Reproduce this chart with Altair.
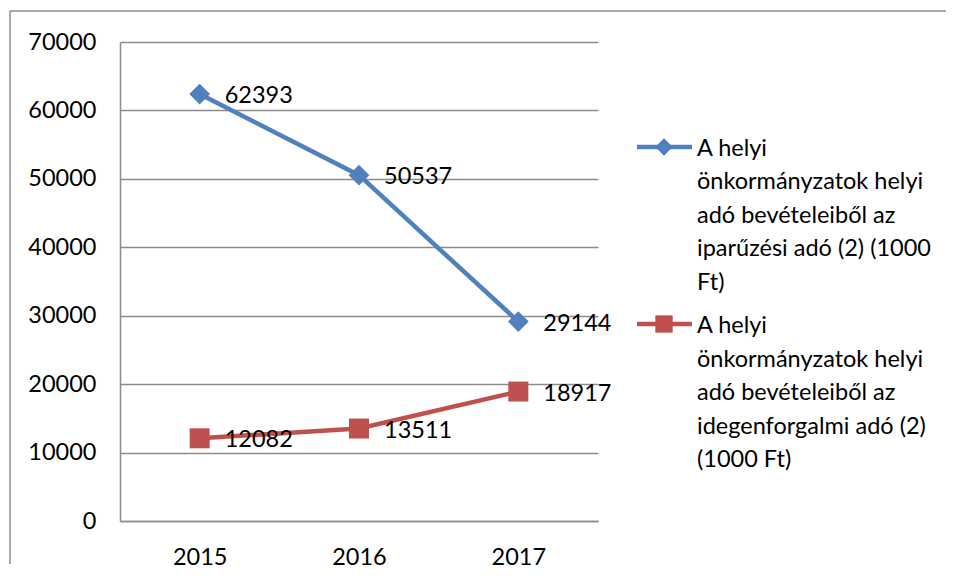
import altair as alt
import pandas as pd

FONT = "Lato"
FS = 23.5

years = ["2015", "2016", "2017"]
series_names = [
    "A helyi önkormányzatok helyi adó bevételeiből az iparűzési adó (2) (1000 Ft)",
    "A helyi önkormányzatok helyi adó bevételeiből az idegenforgalmi adó (2) (1000 Ft)",
]
legend_lines = [
    ["A helyi", "önkormányzatok helyi", "adó bevételeiből az", "iparűzési adó (2) (1000", "Ft)"],
    ["A helyi", "önkormányzatok helyi", "adó bevételeiből az", "idegenforgalmi adó (2)", "(1000 Ft)"],
]
iparuzesi = [62393, 50537, 29144]
idegenforgalmi = [12082, 13511, 18917]
y_ticks = [0, 10000, 20000, 30000, 40000, 50000, 60000, 70000]

colors = ["#4F81BD", "#C0504D"]
shapes = ["diamond", "square"]
sizes = [430, 400]
GRID = "#8c8c8c"

rows = []
for name, vals in zip(series_names, [iparuzesi, idegenforgalmi]):
    for yr, v in zip(years, vals):
        rows.append({"year": yr, "value": v, "series": name})
df = pd.DataFrame(rows)

color_scale = alt.Scale(domain=series_names, range=colors)
shape_scale = alt.Scale(domain=series_names, range=shapes)
size_scale = alt.Scale(domain=series_names, range=sizes)

base = alt.Chart(df).encode(
    x=alt.X("year:O", sort=years, scale=alt.Scale(type="point", padding=0.5),
            axis=alt.Axis(title=None, labelAngle=0, ticks=False, labelPadding=24,
                          domainColor=GRID, domainWidth=1.5)),
    y=alt.Y("value:Q", scale=alt.Scale(domain=[0, 70000]),
            axis=alt.Axis(title=None, values=y_ticks, format="d", ticks=False,
                          labelPadding=24, grid=True, gridColor=GRID, gridWidth=1.5,
                          domainColor=GRID, domainWidth=1.5)),
    color=alt.Color("series:N", scale=color_scale, legend=None),
)

lines = base.mark_line(strokeWidth=4.5)
points = base.mark_point(filled=True, opacity=1).encode(
    shape=alt.Shape("series:N", scale=shape_scale, legend=None),
    size=alt.Size("series:N", scale=size_scale, legend=None),
)
labels = base.mark_text(align="left", baseline="middle", dx=25, dy=2,
                        font=FONT, fontSize=FS).encode(
    text=alt.Text("value:Q", format="d"), color=alt.value("black"))

frame_df = pd.DataFrame({"k": [0]})
frame_left = alt.Chart(frame_df).mark_rule(color=GRID, strokeWidth=1.5).encode(
    x=alt.value(-110), y=alt.value(-31), y2=alt.value(522))
frame_top = alt.Chart(frame_df).mark_rule(color=GRID, strokeWidth=1.5).encode(
    x=alt.value(-110), x2=alt.value(826), y=alt.value(-31))

main = alt.layer(frame_left, frame_top, lines, points, labels).properties(
    width=478, height=479)

leg_df = pd.DataFrame({"series": series_names,
                       "text": ["\n".join(l) for l in legend_lines]})
leg_base = alt.Chart(leg_df).encode(
    y=alt.Y("series:N", sort=series_names,
            scale=alt.Scale(type="point", padding=0.593), axis=None),
    color=alt.Color("series:N", scale=color_scale, legend=None),
)
leg_rule = leg_base.mark_rule(strokeWidth=4.5).encode(x=alt.value(0), x2=alt.value(55))
leg_pt = leg_base.mark_point(filled=True, opacity=1, size=300).encode(
    x=alt.value(27), shape=alt.Shape("series:N", scale=shape_scale, legend=None))
leg_text = leg_base.mark_text(align="left", baseline="top", dy=-10, font=FONT,
                              fontSize=FS, lineBreak="\n", lineHeight=33.5).encode(
    x=alt.value(60), text="text:N", color=alt.value("black"))
legend = alt.layer(leg_rule, leg_pt, leg_text).properties(width=295, height=387)

chart = alt.hconcat(main, legend, spacing=39, bounds="flush").properties(
    padding={"left": 1, "top": 2, "right": 0, "bottom": 0}
).configure_view(stroke=None).configure_axis(
    labelFont=FONT, labelFontSize=FS, labelColor="black"
)

chart.save("out.html", embed_options={"renderer": "svg", "actions": False})
